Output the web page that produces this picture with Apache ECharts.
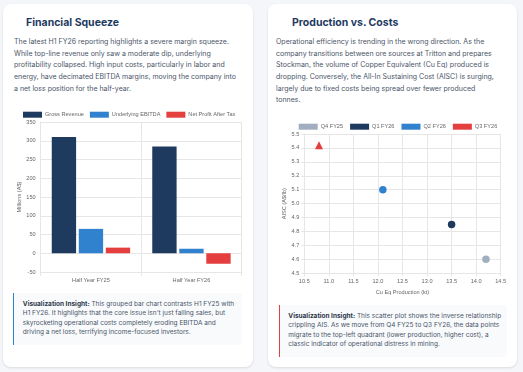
<!DOCTYPE html>
<html><head><meta charset="utf-8">
<script src="https://cdn.jsdelivr.net/npm/echarts@6/dist/echarts.min.js"></script>
<style>
html,body{margin:0;padding:0;}
body{width:523px;height:372px;background:#f4f6f9;position:relative;overflow:hidden;font-family:Inter,"Noto Sans",sans-serif;}
.card{position:absolute;top:4px;height:363px;background:#fff;border-radius:8px;box-shadow:0 1px 3px rgba(0,0,0,0.08),0 1px 2px rgba(0,0,0,0.04);}
.title{position:absolute;font-weight:700;font-size:10.5px;line-height:15px;color:#1e3a5f;white-space:nowrap;}
.para{position:absolute;font-size:7px;line-height:11.7px;color:#4a5568;white-space:nowrap;}
.insight{position:absolute;background:#f8fafc;font-size:6.5px;line-height:9.35px;color:#4a5568;white-space:nowrap;box-sizing:border-box;border-radius:0 3px 3px 0;}
.insight b{color:#2d3748;font-weight:700;}
.chart{position:absolute;}
</style></head>
<body>
<div class="card" style="left:3px;width:250px;"></div>
<div class="card" style="left:268px;width:249px;"></div>

<div class="title" style="left:26px;top:15px;">Financial Squeeze</div>
<div class="para" style="left:14px;top:35.8px;">The latest H1 FY26 reporting highlights a severe margin squeeze.<br>While top-line revenue only saw a moderate dip, underlying<br>profitability collapsed. High input costs, particularly in labor and<br>energy, have decimated EBITDA margins, moving the company into<br>a net loss position for the half-year.</div>
<div id="bar" class="chart" style="left:3px;top:104px;width:250px;height:186px;"></div>
<div class="insight" style="left:13.3px;top:292.7px;width:229px;height:52px;border-left:1.5px solid #3182ce;padding:7.3px 0 0 8.5px;"><b>Visualization Insight:</b> This grouped bar chart contrasts H1 FY25 with<br>H1 FY26. It highlights that the core issue isn't just falling sales, but<br>skyrocketing operational costs completely eroding EBITDA and<br>driving a net loss, terrifying income-focused investors.</div>

<div class="title" style="left:292px;top:15px;">Production vs. Costs</div>
<div class="para" style="left:276px;top:35.8px;">Operational efficiency is trending in the wrong direction. As the<br>company transitions between ore sources at Tritton and prepares<br>Stockman, the volume of Copper Equivalent (Cu Eq) produced is<br>dropping. Conversely, the All-In Sustaining Cost (AISC) is surging,<br>largely due to fixed costs being spread over fewer produced<br>tonnes.</div>
<div id="scatter" class="chart" style="left:268px;top:116px;width:249px;height:186px;"></div>
<div class="insight" style="left:279.3px;top:305px;width:227.7px;height:51.7px;border-left:1.5px solid #e53e3e;padding:7px 0 0 8px;"><b>Visualization Insight:</b> This scatter plot shows the inverse relationship<br>crippling AIS. As we move from Q4 FY25 to Q3 FY26, the data points<br>migrate to the top-left quadrant (lower production, higher cost), a<br>classic indicator of operational distress in mining.</div>

<script>
// ---- Bar chart data ----
const barCategories = ['Half Year FY25', 'Half Year FY26'];
const grossRevenue = [310, 285];
const underlyingEbitda = [65, 12];
const netProfitAfterTax = [15, -28];
const barSeriesNames = ['Gross Revenue', 'Underlying EBITDA', 'Net Profit After Tax'];
const barYMin = -50, barYMax = 350, barYStep = 50;

// ---- Scatter data: [production kt, AISC A$/lb] ----
const scatterNames = ['Q4 FY25', 'Q1 FY26', 'Q2 FY26', 'Q3 FY26'];
const q4FY25 = [[14.2, 4.60]];
const q1FY26 = [[13.5, 4.85]];
const q2FY26 = [[12.1, 5.10]];
const q3FY26 = [[10.8, 5.42]];
const scatterXMin = 10.5, scatterXMax = 14.5, scatterXStep = 0.5;
const scatterYMin = 4.5, scatterYMax = 5.5, scatterYStep = 0.1;

const FONT = '"Liberation Sans", Arial, sans-serif';
const FS = 5.6;
const TXT = '#666';
const GRID = '#e6e6e6';
const NAVY = '#1e3a5f', BLUE = '#3182ce', RED = '#e53e3e', GRAY = '#a0aec0';

const legendBase = {
  padding: 0, itemWidth: 19, itemHeight: 6, icon: 'rect', width: 245,
  textStyle: {fontSize: FS, color: TXT, fontFamily: FONT, padding: [0, 0, 0, -2]}
};

const bar = echarts.init(document.getElementById('bar'), null, {renderer: 'canvas'});
bar.setOption({
  animation: false,
  textStyle: {fontFamily: FONT},
  legend: Object.assign({}, legendBase, {top: 7.7, left: 20, itemGap: 6, data: barSeriesNames}),
  grid: {left: 37.7, right: 11.3, top: 18, bottom: 18},
  xAxis: {
    type: 'category', data: barCategories,
    axisLine: {onZero: false, lineStyle: {color: GRID}},
    axisTick: {show: true, length: 4, lineStyle: {color: GRID}},
    splitLine: {show: true, lineStyle: {color: GRID}},
    axisLabel: {fontSize: FS, color: TXT, margin: 5, fontFamily: FONT}
  },
  yAxis: {
    type: 'value', min: barYMin, max: barYMax, interval: barYStep,
    name: 'Millions (A$)', nameLocation: 'middle', nameGap: 18.7, nameMoveOverlap: false,
    nameTextStyle: {fontSize: FS, color: TXT, fontFamily: FONT},
    axisLine: {show: true, lineStyle: {color: GRID}},
    axisTick: {show: false},
    splitLine: {show: true, lineStyle: {color: GRID}},
    axisLabel: {fontSize: FS, color: TXT, margin: 5, fontFamily: FONT, showMaxLabel: true, showMinLabel: true, hideOverlap: false}
  },
  series: [
    {name: barSeriesNames[0], type: 'bar', data: grossRevenue, itemStyle: {color: NAVY}, barGap: '11%', barCategoryGap: '22%'},
    {name: barSeriesNames[1], type: 'bar', data: underlyingEbitda, itemStyle: {color: BLUE}},
    {name: barSeriesNames[2], type: 'bar', data: netProfitAfterTax, itemStyle: {color: RED}}
  ]
});

const sc = echarts.init(document.getElementById('scatter'), null, {renderer: 'canvas'});
const scData = [q4FY25, q1FY26, q2FY26, q3FY26];
const scColors = [GRAY, NAVY, BLUE, RED];
const scSymbols = ['circle', 'circle', 'circle', 'triangle'];
sc.setOption({
  animation: false,
  textStyle: {fontFamily: FONT},
  legend: Object.assign({}, legendBase, {
    top: 7.7, left: 30.7, itemGap: 7,
    data: scatterNames.map((n, i) => ({name: n, icon: 'rect', itemStyle: {color: scColors[i]}}))
  }),
  grid: {left: 36.3, right: 16.3, top: 18, bottom: 28.7},
  xAxis: {
    type: 'value', min: scatterXMin, max: scatterXMax, interval: scatterXStep,
    name: 'Cu Eq Production (kt)', nameLocation: 'middle', nameGap: 16, nameMoveOverlap: false,
    nameTextStyle: {fontSize: FS, color: TXT, fontFamily: FONT},
    axisLine: {show: true, onZero: false, lineStyle: {color: GRID}},
    axisTick: {show: true, length: 3, lineStyle: {color: GRID}},
    splitLine: {show: true, lineStyle: {color: GRID}},
    axisLabel: {fontSize: FS, color: TXT, margin: 5, fontFamily: FONT, hideOverlap: false, formatter: v => v.toFixed(1)}
  },
  yAxis: {
    type: 'value', min: scatterYMin, max: scatterYMax, interval: scatterYStep,
    name: 'AISC (A$/lb)', nameLocation: 'middle', nameGap: 16.6, nameMoveOverlap: false,
    nameTextStyle: {fontSize: FS, color: TXT, fontFamily: FONT},
    axisLine: {show: true, onZero: false, lineStyle: {color: GRID}},
    axisTick: {show: true, length: 3, lineStyle: {color: GRID}},
    splitLine: {show: true, lineStyle: {color: GRID}},
    axisLabel: {fontSize: FS, color: TXT, margin: 5, fontFamily: FONT, hideOverlap: false, formatter: v => v.toFixed(1)}
  },
  series: scatterNames.map((n, i) => ({
    name: n, type: 'scatter', data: scData[i], symbol: scSymbols[i],
    symbolSize: scSymbols[i] === 'triangle' ? 8 : 7.5,
    itemStyle: {color: scColors[i], opacity: 1}
  }))
});
</script>
</body></html>
